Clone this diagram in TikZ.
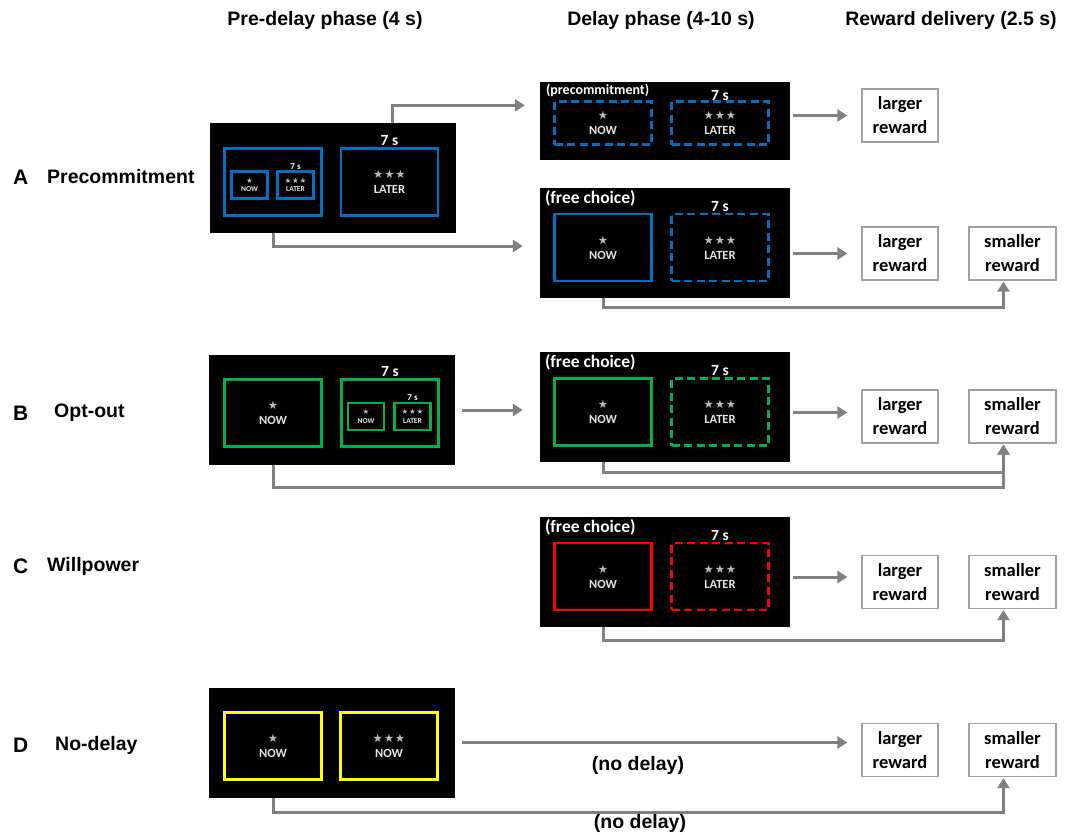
\documentclass[tikz,border=0pt]{standalone}
\usepackage{fontspec}
\setmainfont{Carlito}
\newfontfamily\headfont{Liberation Sans}
\newfontfamily\starfont{DejaVu Sans}
\usetikzlibrary{arrows.meta,calc}
\definecolor{scrblue}{RGB}{0,112,192}
\definecolor{scrgreen}{RGB}{0,176,80}
\definecolor{scrred}{RGB}{255,0,0}
\definecolor{scryellow}{RGB}{255,255,0}
\definecolor{arrowgray}{RGB}{128,128,128}
\definecolor{boxgray}{RGB}{160,160,160}
\definecolor{stargray}{RGB}{185,185,185}
\definecolor{nowgray}{RGB}{228,228,228}
\newcommand{\opt}[2]{{\starfont\fontsize{11.5}{11}\selectfont\color{stargray}#1}\\[0pt]#2}
\newcommand{\miniopt}[2]{{\starfont\fontsize{7.5}{7}\selectfont\color{stargray}#1}\\[0pt]#2}
\newcommand{\three}{★\kern0.8pt★\kern0.8pt★}

\begin{document}
\begin{tikzpicture}[
    x=1pt, y=-1pt,
    screen/.style={fill=black, inner sep=0pt, minimum width=246pt, minimum height=110pt},
    pick/.style={draw=#1, line width=2.8pt, minimum width=97pt, minimum height=67pt,
      inner sep=0pt, align=center, text=nowgray, font=\bfseries\fontsize{12.5}{15}\selectfont},
    wait/.style={pick=#1, dash pattern=on 8pt off 4.5pt},
    mini/.style={draw=#1, line width=2.3pt, minimum width=36pt, minimum height=27pt,
      inner sep=0pt, align=center, text=nowgray, font=\bfseries\fontsize{7.5}{8.5}\selectfont},
    secs/.style={text=white, inner sep=1pt, font=\bfseries\fontsize{15.5}{16}\selectfont},
    minisecs/.style={text=white, inner sep=1pt, font=\bfseries\fontsize{9}{9}\selectfont},
    tag/.style={text=white, inner sep=0pt, anchor=north west, font=\bfseries\fontsize{17.5}{18}\selectfont},
    reward/.style={draw=boxgray, line width=1.2pt, fill=white, align=center, inner sep=0pt,
      minimum height=53pt, font=\bfseries\fontsize{18.5}{24}\selectfont},
    heading/.style={inner sep=0pt, font=\headfont\bfseries\fontsize{19.5}{20}\selectfont},
    letter/.style={inner sep=0pt, anchor=west, font=\headfont\bfseries\fontsize{21}{21}\selectfont},
    pile/.style={draw=arrowgray, line width=3pt, -{Triangle[length=10pt,width=12pt]}}
    ]

\useasboundingbox (0,0) rectangle (1079,835);

% column headings
\node[heading] (hpre) at (325,20) {Pre-delay phase (4 s)};
\node[heading] (hdel) at (661,20) {Delay phase (4-10 s)};
\node[heading] (hrew) at (951,20) {Reward delivery (2.5 s)};

% row names
\node[letter] (rowA) at (13,177) {A};
\node[heading, anchor=west] (nameA) at (47,177) {Precommitment};
\node[letter] (rowB) at (13,413) {B};
\node[heading, anchor=west] (nameB) at (54,413) {Opt-out};
\node[letter] (rowC) at (13,566) {C};
\node[heading, anchor=west] (nameC) at (47,566) {Willpower};
\node[letter] (rowD) at (13,745) {D};
\node[heading, anchor=west] (nameD) at (55,745) {No-delay};

% A: pre-delay
\node[screen] (preA) at (332.5,178) {};
\node[pick=scrblue] (choiceA) at (273,182) {};
\node[mini=scrblue] (mnowA) at (249.5,185) {\miniopt{★}{NOW}};
\node[mini=scrblue, label={[minisecs]above:7 s}] (mlateA) at (295.5,185) {\miniopt{\three}{LATER}};
\node[pick=scrblue, label={[secs]above:7 s}] (bigA) at (389.5,182) {\opt{\three}{LATER}};

% A: delay
\node[screen, minimum width=250pt, minimum height=78pt] (delA1) at (665,121) {};
\node[tag, font=\bfseries\fontsize{14}{14}\selectfont] (tagA1) at ([xshift=6pt,yshift=-2pt]delA1.north west) {(precommitment)};
\node[wait=scrblue, minimum height=43pt] (nowA1) at (603,123) {\opt{★}{NOW}};
\node[wait=scrblue, minimum height=43pt, label={[secs, yshift=-2pt]above:7 s}] (lateA1) at (720,123) {\opt{\three}{LATER}};

\node[screen, minimum width=250pt] (delA2) at (665,243) {};
\node[tag] (tagA2) at ([xshift=5pt,yshift=-3pt]delA2.north west) {(free choice)};
\node[pick=scrblue] (nowA2) at (603,247.5) {\opt{★}{NOW}};
\node[wait=scrblue, label={[secs]above:7 s}] (lateA2) at (720,247.5) {\opt{\three}{LATER}};

% B: pre-delay
\node[screen] (preB) at (332,410) {};
\node[pick=scrgreen] (pnowB) at (273,413) {\opt{★}{NOW}};
\node[pick=scrgreen, label={[secs]above:7 s}] (choiceB) at (390,413) {};
\node[mini=scrgreen] (mnowB) at (366,416.5) {\miniopt{★}{NOW}};
\node[mini=scrgreen, label={[minisecs]above:7 s}] (mlateB) at (412.5,416.5) {\miniopt{\three}{LATER}};

% B: delay
\node[screen, minimum width=250pt] (delB) at (665,407) {};
\node[tag] (tagB) at ([xshift=5pt,yshift=-3pt]delB.north west) {(free choice)};
\node[pick=scrgreen] (nowB) at (603,412) {\opt{★}{NOW}};
\node[wait=scrgreen, label={[secs]above:7 s}] (lateB) at (720,412) {\opt{\three}{LATER}};

% C: delay
\node[screen, minimum width=250pt] (delC) at (665,572) {};
\node[tag] (tagC) at ([xshift=5pt,yshift=-3pt]delC.north west) {(free choice)};
\node[pick=scrred] (nowC) at (603,576.5) {\opt{★}{NOW}};
\node[wait=scrred, label={[secs]above:7 s}] (lateC) at (720,576.5) {\opt{\three}{LATER}};

% D: pre-delay
\node[screen] (preD) at (332,742.5) {};
\node[pick=scryellow] (pnowD) at (273,746) {\opt{★}{NOW}};
\node[pick=scryellow] (plateD) at (389,746) {\opt{\three}{NOW}};

% rewards
\node[reward, minimum width=76pt] (largeA1) at (900,115.5) {larger\\reward};
\node[reward, minimum width=76pt] (largeA2) at (900,253.5) {larger\\reward};
\node[reward, minimum width=87pt] (smallA2) at (1012.5,253.5) {smaller\\reward};
\node[reward, minimum width=76pt] (largeB) at (900,416.5) {larger\\reward};
\node[reward, minimum width=87pt] (smallB) at (1012.5,416.5) {smaller\\reward};
\node[reward, minimum width=76pt] (largeC) at (900,582) {larger\\reward};
\node[reward, minimum width=87pt] (smallC) at (1012.5,582) {smaller\\reward};
\node[reward, minimum width=76pt] (largeD) at (900,750) {larger\\reward};
\node[reward, minimum width=87pt] (smallD) at (1012.5,750) {smaller\\reward};

% connectors
\draw[pile, shorten >=15pt] ([xshift=3pt]bigA.north |- preA.north) |- ($(delA1.north west)!0.3!(delA1.south west)$);

\draw[pile, shorten >=17pt] (choiceA.south |- preA.south) |- ([yshift=-3pt]delA2.west);

\draw[pile, shorten <=3pt, shorten >=14pt] (largeA1.west -| delA1.east) -- (largeA1.west);

\draw[pile, shorten <=3pt, shorten >=14pt] (largeA2.west -| delA2.east) -- (largeA2.west);

\draw[pile, shorten >=1pt] (nowA2.south |- delA2.south) -- ++(0,9) -| ([xshift=-9pt]smallA2.south);

\draw[pile, shorten <=7pt, shorten >=17pt] (preB.east) -- (preB.east -| delB.west);

\draw[pile, shorten <=3pt, shorten >=14pt] ([yshift=4pt]largeB.west -| delB.east) -- ([yshift=4pt]largeB.west);

\draw[pile, shorten >=1pt] (nowB.south |- delB.south) -- ++(0,10) -| ([xshift=-9pt]smallB.south);

\draw[pile, shorten >=1pt] (pnowB.south |- preB.south) -- ++(0,22) -| ([xshift=-9pt]smallB.south);

\draw[pile, shorten <=3pt, shorten >=14pt] ([yshift=5pt]largeC.west -| delC.east) -- ([yshift=5pt]largeC.west);

\draw[pile, shorten >=1pt] (nowC.south |- delC.south) -- ++(0,13) -| ([xshift=-9pt]smallC.south);

\draw[pile, shorten <=7pt, shorten >=14pt] (preD.east) -- (preD.east -| largeD.west)
    node[heading, pos=0.45, below=12pt] (nodelayA) {(no delay)};

\draw[pile, shorten >=1pt] (pnowD.south |- preD.south) -- ++(0,15) -| ([xshift=-9pt]smallD.south);

\node[heading] (nodelayB) at (640,823) {(no delay)};

\end{tikzpicture}
\end{document}
